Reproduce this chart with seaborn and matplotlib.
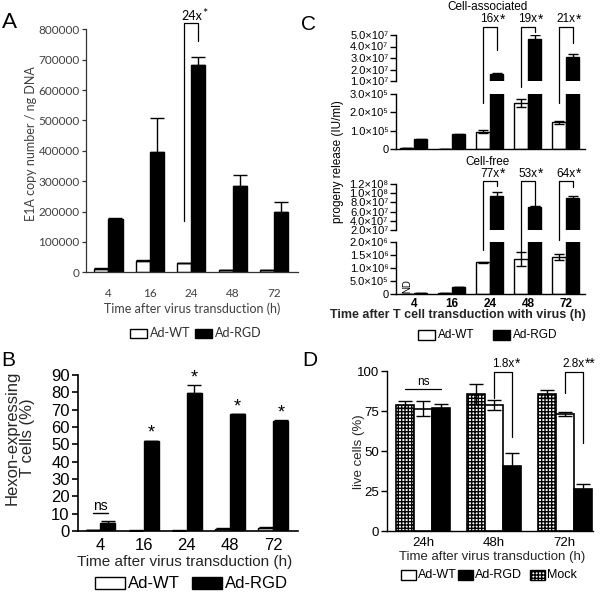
import numpy as np
import pandas as pd
import matplotlib
matplotlib.use("Agg")
import matplotlib.pyplot as plt
import seaborn as sns
from matplotlib.patches import Rectangle
from matplotlib.lines import Line2D

W, H = 603, 595

# ---- data ----
times = ["4", "16", "24", "48", "72"]

# A: E1A copy number / ng DNA
a_wt = [12000, 38000, 29000, 7500, 7500]
a_wt_err = [3000, 2000, 0, 0, 0]
a_rgd = [177000, 397000, 683000, 285000, 200000]
a_rgd_err = [2000, 110000, 25000, 34000, 31000]

# B: Hexon-expressing T cells (%)
b_wt = [0.3, 0.2, 0.2, 1.3, 1.6]
b_wt_err = [0.1, 0.1, 0.1, 0.4, 0.8]
b_rgd = [4.5, 51.7, 79.5, 67.3, 63.7]
b_rgd_err = [1.2, 0.5, 4.7, 0.4, 0.3]

# C: progeny release (IU/ml)
c_assoc_wt = [5000, 2000, 95000, 250000, 145000]
c_assoc_wt_err = [0, 0, 6000, 23000, 10000]
c_assoc_rgd = [53000, 81000, 1.6e7, 4.63e7, 3.11e7]
c_assoc_rgd_err = [2000, 2000, 0.06e7, 0.37e7, 0.2e7]
c_free_wt = [0, 0.05e6, 1.22e6, 1.35e6, 1.42e6]
c_free_wt_err = [0, 0, 0.01e6, 0.27e6, 0.11e6]
c_free_rgd = [0.04e6, 0.27e6, 9.4e7, 7.1e7, 9.0e7]
c_free_rgd_err = [0, 0.01e6, 0.9e7, 0.15e7, 0.45e7]
c_assoc_fold = ["16x", "19x", "21x"]
c_free_fold = ["77x", "53x", "64x"]

# D: live cells (%)
d_times = ["24h", "48h", "72h"]
d_mock = [78.8, 85.6, 85.6]
d_mock_err = [2.2, 6.5, 2.5]
d_wt = [76.5, 78.8, 73.1]
d_wt_err = [4.5, 3.1, 1.2]
d_rgd = [76.7, 40.6, 26.3]
d_rgd_err = [2.7, 8.3, 2.9]

# tick values
a_ticks = list(range(0, 800001, 100000))
b_ticks = list(range(0, 91, 10))
ca_up_ticks = [1e7, 2e7, 3e7, 4e7, 5e7]
ca_up_labels = ["1.0×10⁷", "2.0×10⁷", "3.0×10⁷", "4.0×10⁷", "5.0×10⁷"]
ca_lo_ticks = [0, 1e5, 2e5, 3e5]
ca_lo_labels = ["0", "1.0×10⁵", "2.0×10⁵", "3.0×10⁵"]
cf_up_ticks = [2e7, 4e7, 6e7, 8e7, 1e8, 1.2e8]
cf_up_labels = ["2.0×10⁷", "4.0×10⁷", "6.0×10⁷", "8.0×10⁷", "1.0×10⁸", "1.2×10⁸"]
cf_lo_ticks = [0, 5e5, 1e6, 1.5e6, 2e6]
cf_lo_labels = ["0", "5.0×10⁵", "1.0×10⁶", "1.5×10⁶", "2.0×10⁶"]
d_ticks = [0, 25, 50, 75, 100]

sns.set_style("ticks")
ARIAL = ["Liberation Sans", "DejaVu Sans"]
CALIBRI = ["Lato", "DejaVu Sans"]
plt.rcParams["font.family"] = ARIAL
plt.rcParams["hatch.linewidth"] = 1.0
plt.rcParams["text.color"] = "black"
plt.rcParams["axes.edgecolor"] = "black"

fig = plt.figure(figsize=(W / 100, H / 100), dpi=100)
PAL = {"Ad-WT": "white", "Ad-RGD": "black", "Mock": "white"}


def px_axes(left, top, right, bottom):
    return fig.add_axes([left / W, 1 - bottom / H, (right - left) / W, (bottom - top) / H])


def to_fig(ax, x, y):
    return fig.transFigure.inverted().transform(ax.transData.transform((x, y)))


def long_df(cats, series):
    rows = []
    for name, vals in series.items():
        for c, v in zip(cats, vals):
            rows.append({"time": c, "virus": name, "value": v})
    return pd.DataFrame(rows)


def bars(ax, cats, series, errs, width, capsize, both, lw=1.0):
    df = long_df(cats, series)
    sns.barplot(data=df, x="time", y="value", hue="virus", order=cats,
                hue_order=list(series), palette=PAL, width=width, gap=0,
                errorbar=None, edgecolor="black", linewidth=lw,
                legend=False, ax=ax)
    centers = {}
    conts = list(ax.containers)
    for name, cont, err in zip(series, conts, errs):
        xs = [p.get_x() + p.get_width() / 2 for p in cont.patches]
        ys = [p.get_height() for p in cont.patches]
        yerr = err if both else [np.zeros(len(err)), err]
        ax.errorbar(xs, ys, yerr=yerr, fmt="none", ecolor="black",
                    elinewidth=1, capsize=capsize, capthick=1)
        centers[name] = xs
    ax.set_xlabel("")
    ax.set_ylabel("")
    return centers, conts


def style(ax, fs, family, ylen=4, spw=1.0, color="black", labelcolor="black"):
    sns.despine(ax=ax)
    for s in ("left", "bottom"):
        ax.spines[s].set_linewidth(spw)
        ax.spines[s].set_color(color)
    ax.tick_params(axis="y", length=ylen, width=spw, color=color, labelsize=fs,
                   labelcolor=labelcolor, labelfontfamily=family, pad=1.5)
    ax.tick_params(axis="x", length=0, labelsize=fs, labelcolor=labelcolor,
                   labelfontfamily=family)


def legend_row(y, entries, fs, family, color="black", gap=3):
    for x, w, h, face, hatch, label in entries:
        fig.add_artist(Rectangle((x / W, 1 - (y + h / 2) / H), w / W, h / H,
                                 transform=fig.transFigure, facecolor=face,
                                 edgecolor="black", lw=1, hatch=hatch))
        fig.text((x + w + gap) / W, 1 - y / H, label, fontsize=fs, family=family,
                 va="center", ha="left", color=color)


renderer = fig.canvas.get_renderer()


def bracket(ax_l, xl, yl, ax_r, xr, yr, ax_t, ytop, label, star, fs, sfs, family, rise=1.5):
    p1 = to_fig(ax_l, xl, yl)
    p2 = to_fig(ax_t, xl, ytop)
    p3 = to_fig(ax_t, xr, ytop)
    p4 = to_fig(ax_r, xr, yr)
    fig.add_artist(Line2D([p1[0], p2[0], p3[0], p4[0]], [p1[1], p2[1], p3[1], p4[1]],
                          transform=fig.transFigure, color="black", lw=0.9))
    t = fig.text((p2[0] + p3[0]) / 2, p2[1] + 1.5 / H, label, fontsize=fs,
                 family=family, ha="center", va="bottom")
    bb = t.get_window_extent(renderer)
    fig.text(bb.x1 / W + 0.5 / W, p2[1] + rise / H, star, fontsize=sfs,
             family=family, ha="left", va="bottom")


# ---------------- Panel A ----------------
axA = px_axes(86, 29.3, 298, 272.3)
cA, _ = bars(axA, times, {"Ad-WT": a_wt, "Ad-RGD": a_rgd}, [a_wt_err, a_rgd_err],
             width=0.68, capsize=5, both=False)
axA.set_xlim(-0.54, 4.57)
axA.set_ylim(0, 800000)
axA.set_yticks(a_ticks, [str(v) for v in a_ticks])
style(axA, 8.5, CALIBRI, ylen=3, spw=0.9, color="#333333", labelcolor="#404040")
axA.tick_params(axis="x", pad=11)
axA.set_ylabel("E1A copy number / ng DNA", fontsize=9, family=CALIBRI, color="#404040")
axA.yaxis.set_label_coords((37 - 86) / 212, (272.3 - 143.5) / 243)
axA.set_xlabel("Time after virus transduction (h)", fontsize=9, family=CALIBRI, color="#404040")
axA.xaxis.set_label_coords((192 - 86) / 212, (272.3 - 302) / 243)
bracket(axA, cA["Ad-WT"][2], 170000, axA, cA["Ad-RGD"][2], 760000, axA, 820000,
        "24x", "*", 9, 9, CALIBRI, rise=3)
legend_row(333, [(130, 17, 9, "white", None, "Ad-WT"),
                 (195, 17, 9, "black", None, "Ad-RGD")], 9, CALIBRI, "#303030")
fig.text(10 / W, 1 - 22 / H, "A", fontsize=16, family=CALIBRI, ha="center", va="center")

# ---------------- Panel B ----------------
axB = px_axes(78, 375, 298, 531)
cB, _ = bars(axB, times, {"Ad-WT": b_wt, "Ad-RGD": b_rgd}, [b_wt_err, b_rgd_err],
             width=0.69, capsize=5, both=False)
axB.set_xlim(-0.52, 4.57)
axB.set_ylim(0, 90)
axB.set_yticks(b_ticks)
style(axB, 12, ARIAL, ylen=4.5, spw=1.2)
axB.tick_params(axis="x", pad=5)
axB.set_ylabel("Hexon-expressing\nT cells (%)", fontsize=12, linespacing=1.05)
axB.yaxis.set_label_coords((35 - 78) / 220, (531 - 438) / 156)
axB.set_xlabel("Time after virus transduction (h)", fontsize=11)
axB.xaxis.set_label_coords((185 - 78) / 220, (531 - 555) / 156)
for i in range(1, 5):
    axB.annotate("*", (cB["Ad-RGD"][i], b_rgd[i] + b_rgd_err[i]), xytext=(0, -1),
                 textcoords="offset points", ha="center", va="bottom", fontsize=13)
axB.plot([cB["Ad-WT"][0], cB["Ad-RGD"][0]], [10.4, 10.4], color="black", lw=1)
axB.text((cB["Ad-WT"][0] + cB["Ad-RGD"][0]) / 2, 10.4, "ns", fontsize=10,
         ha="center", va="bottom")
legend_row(583, [(95, 30, 12, "white", None, "Ad-WT"),
                 (192, 30, 12, "black", None, "Ad-RGD")], 12, ARIAL)
fig.text(8 / W, 1 - 361 / H, "B", fontsize=15, ha="center", va="center")

# ---------------- Panel C ----------------
cu = px_axes(396, 35, 585, 81)
cl = px_axes(396, 94, 585, 149)
fu = px_axes(396, 184, 585, 230)
fl = px_axes(396, 242, 585, 294)
parts = [
    (cu, c_assoc_wt, c_assoc_wt_err, c_assoc_rgd, c_assoc_rgd_err, (1e7, 5e7), ca_up_ticks, ca_up_labels),
    (cl, c_assoc_wt, c_assoc_wt_err, c_assoc_rgd, c_assoc_rgd_err, (0, 3e5), ca_lo_ticks, ca_lo_labels),
    (fu, c_free_wt, c_free_wt_err, c_free_rgd, c_free_rgd_err, (2e7, 1.2e8), cf_up_ticks, cf_up_labels),
    (fl, c_free_wt, c_free_wt_err, c_free_rgd, c_free_rgd_err, (0, 2e6), cf_lo_ticks, cf_lo_labels),
]
cC = None
for ax, wt, wte, rgd, rgde, lim, tk, tl in parts:
    cC, _ = bars(ax, times, {"Ad-WT": wt, "Ad-RGD": rgd}, [wte, rgde],
                 width=0.71, capsize=3.5, both=True, lw=1.0)
    ax.set_xlim(-0.47, 4.5)
    ax.set_ylim(*lim)
    ax.set_yticks(tk, tl)
    style(ax, 8, ARIAL, ylen=4, spw=1.0)
for ax in (cu, fu):
    ax.spines["bottom"].set_visible(False)
    ax.set_xticks([])
cl.set_xticklabels([])
fl.tick_params(axis="x", pad=3, labelsize=8.5)
for lbl in fl.get_xticklabels():
    lbl.set_fontweight("bold")
fl.set_xlabel("Time after T cell transduction with virus (h)", fontsize=9, fontweight="bold")
fl.xaxis.set_label_coords((458 - 396) / 189, (294 - 309) / 52)
fl.text(cC["Ad-WT"][0], 0.31e6, "ND", rotation=90, fontsize=7, ha="center", va="center")

for k, g in enumerate([2, 3, 4]):
    bracket(cl, cC["Ad-WT"][g], [2.5e5, 3.4e5, 2.5e5][k],
            cu, cC["Ad-RGD"][g], [3.7e7, 5.25e7, 4.3e7][k],
            cu, 5.7e7, c_assoc_fold[k], "*", 8.5, 10, ARIAL, rise=0.5)
    bracket(fl, cC["Ad-WT"][g], [1.69e6, 1.62e6, 2.08e6][k],
            fu, cC["Ad-RGD"][g], [1.16e8, 7.3e7, 1.13e8][k],
            fu, 1.265e8, c_free_fold[k], "*", 8.5, 10, ARIAL, rise=0.5)

fig.text(488 / W, 1 - 7.5 / H, "Cell-associated", fontsize=8.5, ha="center", va="center")
fig.text(487 / W, 1 - 162 / H, "Cell-free", fontsize=8.5, ha="center", va="center")
fig.text(338 / W, 1 - 162 / H, "progeny release (IU/ml)", fontsize=8.5, rotation=90,
         ha="center", va="center")
legend_row(335, [(418, 17, 10, "white", None, "Ad-WT"),
                 (493, 17, 10, "black", None, "Ad-RGD")], 8.5, ARIAL)
fig.text(308 / W, 1 - 25 / H, "C", fontsize=15, ha="center", va="center")

# ---------------- Panel D ----------------
axD = px_axes(387, 371, 593, 531)
cD, contD = bars(axD, d_times, {"Mock": d_mock, "Ad-WT": d_wt, "Ad-RGD": d_rgd},
                 [d_mock_err, d_wt_err, d_rgd_err], width=0.76, capsize=5, both=True, lw=1.2)
for p in contD[0].patches:
    p.set_hatch("+++++")
axD.set_xlim(-0.51, 2.4)
axD.set_ylim(0, 100)
axD.set_yticks(d_ticks)
style(axD, 9.5, ARIAL, ylen=4, spw=1.0)
axD.tick_params(axis="x", pad=4)
axD.set_ylabel("live cells (%)", fontsize=9.5)
axD.yaxis.set_label_coords((365 - 387) / 206, (531 - 452) / 160)
axD.set_xlabel("Time after virus transduction (h)", fontsize=9.5)
axD.xaxis.set_label_coords((492 - 387) / 206, (531 - 551) / 160)
axD.plot([cD["Mock"][0], cD["Ad-RGD"][0]], [88.8, 88.8], color="black", lw=0.9)
axD.text((cD["Mock"][0] + cD["Ad-RGD"][0]) / 2, 89.5, "ns", fontsize=8.5,
         ha="center", va="bottom")
bracket(axD, cD["Ad-WT"][1], 83.1, axD, cD["Ad-RGD"][1], 58.8, axD, 99.4,
        "1.8x", "*", 8.5, 10, ARIAL, rise=1)
bracket(axD, cD["Ad-WT"][2], 86.3, axD, cD["Ad-RGD"][2], 55.0, axD, 99.4,
        "2.8x", "**", 8.5, 10, ARIAL, rise=1)
legend_row(575, [(401, 15, 10, "white", None, "Ad-WT"),
                 (458, 15, 10, "black", None, "Ad-RGD"),
                 (530, 15, 10, "white", "+++++", "Mock")], 9, ARIAL, gap=1.5)
fig.text(310 / W, 1 - 361 / H, "D", fontsize=15, ha="center", va="center")

fig.savefig("out.png", dpi=100)
